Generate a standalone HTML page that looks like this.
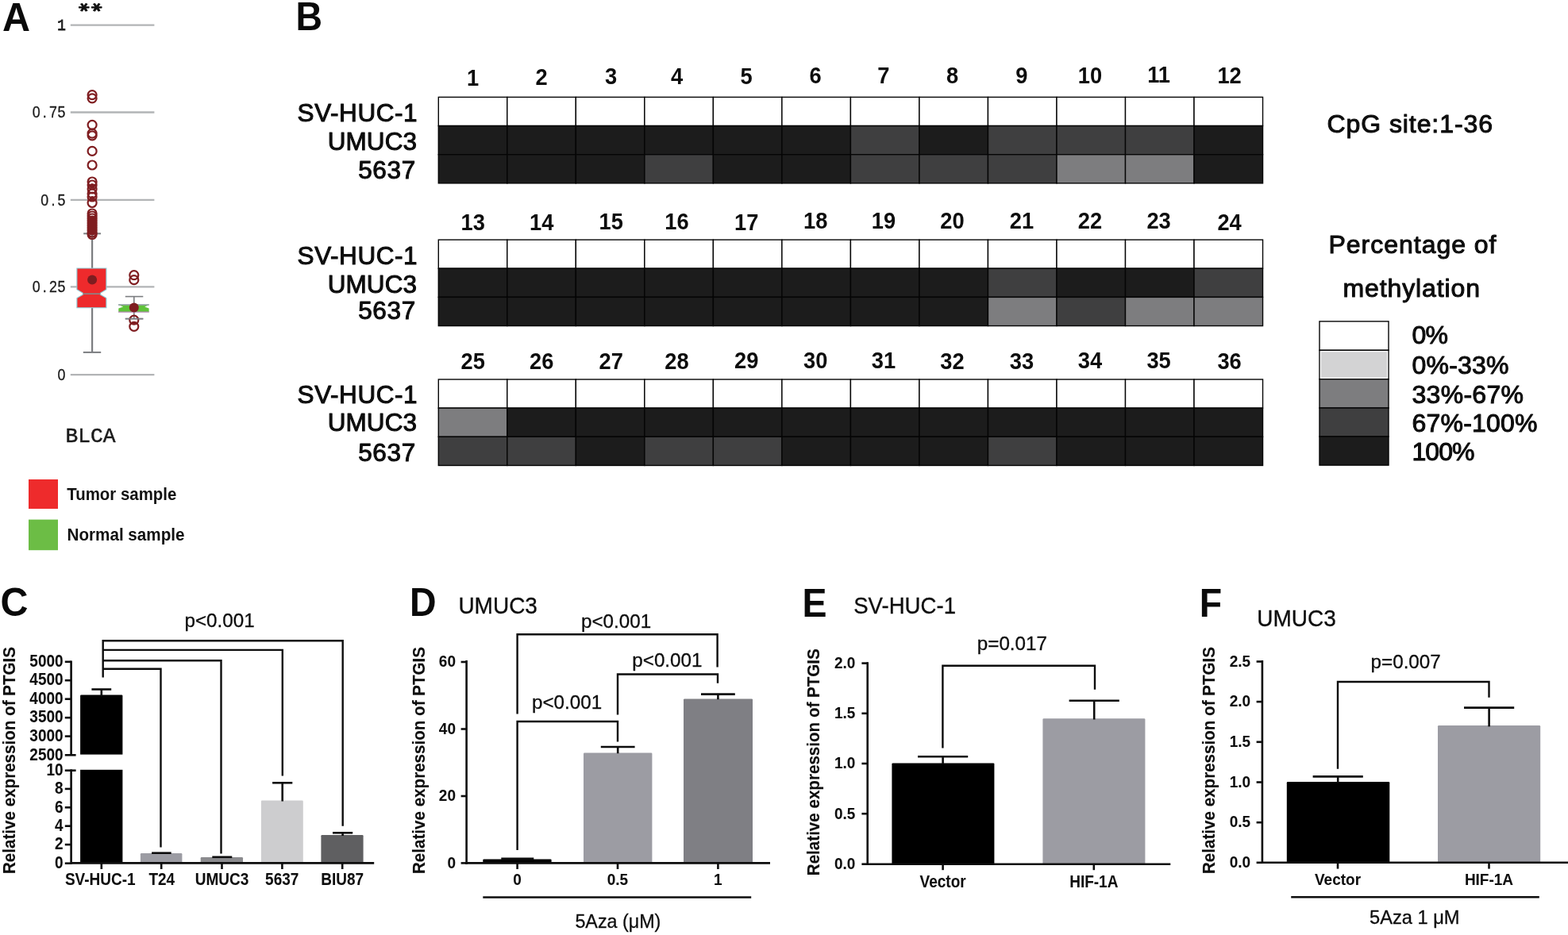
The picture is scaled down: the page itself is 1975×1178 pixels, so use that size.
<!DOCTYPE html>
<html lang="en">
<head>
<meta charset="utf-8">
<title>Figure</title>
<style>
html,body{margin:0;padding:0;background:#ffffff;}
body{width:1975px;height:1178px;overflow:hidden;font-family:"Liberation Sans", sans-serif;}
svg{display:block;}
</style>
</head>
<body>
<svg width="1975" height="1178" viewBox="0 0 1975 1178">
<rect x="0" y="0" width="1975" height="1178" fill="#ffffff"/>
<text transform="translate(3.0,38.8) scale(0.97,1)" font-family='"Liberation Sans", sans-serif' font-size="50" font-weight="bold" fill="#0a0a0a">A</text>
<text transform="translate(372.6,38.4) scale(0.93,1)" font-family='"Liberation Sans", sans-serif' font-size="50" font-weight="bold" fill="#0a0a0a">B</text>
<text transform="translate(0.6,776.2) scale(0.97,1)" font-family='"Liberation Sans", sans-serif' font-size="50" font-weight="bold" fill="#0a0a0a">C</text>
<text transform="translate(516.0,776.4) scale(0.93,1)" font-family='"Liberation Sans", sans-serif' font-size="50" font-weight="bold" fill="#0a0a0a">D</text>
<text transform="translate(1010.4,776.6) scale(0.93,1)" font-family='"Liberation Sans", sans-serif' font-size="50" font-weight="bold" fill="#0a0a0a">E</text>
<text transform="translate(1510.7,776.6) scale(0.93,1)" font-family='"Liberation Sans", sans-serif' font-size="50" font-weight="bold" fill="#0a0a0a">F</text>
<g id="panelA">
<line x1="88.8" y1="31.7" x2="194.4" y2="31.7" stroke="#b2b4b6" stroke-width="2.3" />
<text transform="translate(77.50,38.40) scale(0.84,1)" font-family='"Liberation Mono", "DejaVu Sans Mono", monospace' font-size="21" text-anchor="middle" fill="#1a1a1a" stroke="#1a1a1a" stroke-width="0.9">1</text>
<line x1="88.8" y1="141.5" x2="194.4" y2="141.5" stroke="#b2b4b6" stroke-width="2.3" />
<text transform="translate(82.80,148.40) scale(0.9,1)" x="-41.22 -29.44 -17.67 -5.89" y="0" font-family='"Liberation Sans", sans-serif' font-size="19.8" text-anchor="middle" fill="#1a1a1a" stroke="#1a1a1a" stroke-width="0.3">0.75</text>
<line x1="88.8" y1="251.79999999999998" x2="194.4" y2="251.79999999999998" stroke="#b2b4b6" stroke-width="2.3" />
<text transform="translate(82.80,258.70) scale(0.9,1)" x="-29.44 -17.67 -5.89" y="0" font-family='"Liberation Sans", sans-serif' font-size="19.8" text-anchor="middle" fill="#1a1a1a" stroke="#1a1a1a" stroke-width="0.3">0.5</text>
<line x1="88.8" y1="361.4" x2="194.4" y2="361.4" stroke="#b2b4b6" stroke-width="2.3" />
<text transform="translate(82.80,368.30) scale(0.9,1)" x="-41.22 -29.44 -17.67 -5.89" y="0" font-family='"Liberation Sans", sans-serif' font-size="19.8" text-anchor="middle" fill="#1a1a1a" stroke="#1a1a1a" stroke-width="0.3">0.25</text>
<line x1="88.8" y1="472.2" x2="194.4" y2="472.2" stroke="#b2b4b6" stroke-width="2.3" />
<text transform="translate(82.80,479.10) scale(0.9,1)" x="-5.89" y="0" font-family='"Liberation Sans", sans-serif' font-size="19.8" text-anchor="middle" fill="#1a1a1a" stroke="#1a1a1a" stroke-width="0.3">0</text>
<text transform="scale(1.06,0.80)" x="86.68 101.68" y="5.13" rotate="90" font-family='"DejaVu Sans", "Liberation Sans", sans-serif' font-size="25" font-weight="bold" fill="#111" stroke="#111" stroke-width="1.1" stroke-linejoin="round">**</text>
<line x1="116.1" y1="294.3" x2="116.1" y2="338" stroke="#7b7d80" stroke-width="2.2" />
<line x1="105.2" y1="294.3" x2="127.0" y2="294.3" stroke="#7b7d80" stroke-width="2.0" />
<line x1="116.1" y1="388" x2="116.1" y2="443.9" stroke="#7b7d80" stroke-width="2.2" />
<line x1="104.8" y1="443.9" x2="127.2" y2="443.9" stroke="#7b7d80" stroke-width="2.0" />
<path d="M96.9,338 H133.9 V364.8 L126.4,369.3 V371.1 L133.9,375.6 V387.8 H96.9 V375.6 L104.4,371.1 V369.3 L96.9,364.8 Z" fill="#ee2a2c" stroke="#8ecbd6" stroke-width="1.1" />
<line x1="104.4" y1="370.2" x2="126.4" y2="370.2" stroke="#8c8587" stroke-width="1.7" />
<circle cx="116.1" cy="119.6" r="5.5" fill="none" stroke="#7f1d20" stroke-width="2.2"/>
<circle cx="116.1" cy="123.8" r="5.5" fill="none" stroke="#7f1d20" stroke-width="2.2"/>
<circle cx="116.1" cy="157.3" r="5.5" fill="none" stroke="#7f1d20" stroke-width="2.2"/>
<circle cx="116.1" cy="168.2" r="5.5" fill="none" stroke="#7f1d20" stroke-width="2.2"/>
<circle cx="116.1" cy="170.8" r="5.5" fill="none" stroke="#7f1d20" stroke-width="2.2"/>
<circle cx="116.1" cy="190.4" r="5.5" fill="none" stroke="#7f1d20" stroke-width="2.2"/>
<circle cx="116.1" cy="208" r="5.5" fill="none" stroke="#7f1d20" stroke-width="2.2"/>
<circle cx="116.1" cy="229" r="5.5" fill="none" stroke="#7f1d20" stroke-width="2.2"/>
<circle cx="116.1" cy="233" r="5.5" fill="none" stroke="#7f1d20" stroke-width="2.2"/>
<circle cx="116.1" cy="238" r="5.5" fill="none" stroke="#7f1d20" stroke-width="2.2"/>
<circle cx="116.1" cy="244" r="5.5" fill="none" stroke="#7f1d20" stroke-width="2.2"/>
<circle cx="116.1" cy="248" r="5.5" fill="none" stroke="#7f1d20" stroke-width="2.2"/>
<circle cx="116.1" cy="255.5" r="5.5" fill="none" stroke="#7f1d20" stroke-width="2.2"/>
<circle cx="116.1" cy="269" r="5.5" fill="none" stroke="#7f1d20" stroke-width="2.2"/>
<circle cx="116.1" cy="272" r="5.5" fill="none" stroke="#7f1d20" stroke-width="2.2"/>
<circle cx="116.1" cy="275" r="5.5" fill="none" stroke="#7f1d20" stroke-width="2.2"/>
<circle cx="116.1" cy="278" r="5.5" fill="none" stroke="#7f1d20" stroke-width="2.2"/>
<circle cx="116.1" cy="281" r="5.5" fill="none" stroke="#7f1d20" stroke-width="2.2"/>
<circle cx="116.1" cy="284" r="5.5" fill="none" stroke="#7f1d20" stroke-width="2.2"/>
<circle cx="116.1" cy="287" r="5.5" fill="none" stroke="#7f1d20" stroke-width="2.2"/>
<circle cx="116.1" cy="290" r="5.5" fill="none" stroke="#7f1d20" stroke-width="2.2"/>
<circle cx="116.1" cy="293" r="5.5" fill="none" stroke="#7f1d20" stroke-width="2.2"/>
<circle cx="116.1" cy="295.5" r="5.5" fill="none" stroke="#7f1d20" stroke-width="2.2"/>
<rect x="110.3" y="272" width="11.6" height="23" rx="2" fill="#7f1d20"/>
<circle cx="116.1" cy="234.5" r="3.2" fill="#7f1d20"/>
<circle cx="116.1" cy="250" r="3" fill="#7f1d20"/>
<circle cx="116.1" cy="352.4" r="6" fill="#7f1d20"/>
<line x1="168.8" y1="373.6" x2="168.8" y2="384" stroke="#7b7d80" stroke-width="1.6" />
<line x1="157.8" y1="373.6" x2="180.3" y2="373.6" stroke="#7b7d80" stroke-width="1.6" />
<line x1="168.8" y1="393" x2="168.8" y2="401.6" stroke="#7b7d80" stroke-width="1.6" />
<line x1="157.8" y1="401.6" x2="180.3" y2="401.6" stroke="#7b7d80" stroke-width="1.6" />
<circle cx="168.8" cy="346.6" r="5.5" fill="none" stroke="#7f1d20" stroke-width="2.2"/>
<circle cx="168.8" cy="352.7" r="5.5" fill="none" stroke="#7f1d20" stroke-width="2.2"/>
<circle cx="168.8" cy="403.2" r="5.5" fill="none" stroke="#7f1d20" stroke-width="2.2"/>
<circle cx="168.8" cy="411.3" r="5.5" fill="none" stroke="#7f1d20" stroke-width="2.2"/>
<path d="M163.6,409.6 A5.4,5.4 0 0 1 174,409.6 Q168.8,406.8 163.6,409.6 Z" fill="#7f1d20"/>
<path d="M149.3,384.3 H187.6 L182.2,386.4 L187.6,388.6 V393 H149.3 V388.6 L155.2,386.4 L149.3,384.3 Z" fill="#5fc33a" stroke="none" stroke-width="0" />
<line x1="149" y1="384.1" x2="187.8" y2="384.1" stroke="#8a9a9c" stroke-width="1.5" />
<line x1="149" y1="393.1" x2="187.8" y2="393.1" stroke="#b58ab5" stroke-width="1.3" />
<line x1="157.8" y1="401.6" x2="180.3" y2="401.6" stroke="#7b7d80" stroke-width="1.6" />
<circle cx="168.8" cy="387.6" r="6" fill="#7f1d20"/>
<text x="82.6" y="556.6" font-family='"Liberation Mono", "DejaVu Sans Mono", monospace' font-size="26.5" font-weight="normal" text-anchor="start" fill="#1a1a1a" textLength="63" lengthAdjust="spacingAndGlyphs" stroke="#1a1a1a" stroke-width="0.5">BLCA</text>
<rect x="36.00" y="604.00" width="37.00" height="37.00" fill="#ee2b2c" stroke="none" stroke-width="0" />
<rect x="36.00" y="654.60" width="37.00" height="38.60" fill="#6cbd45" stroke="none" stroke-width="0" />
<text x="84.3" y="630.2" font-family='"Liberation Sans", sans-serif' font-size="22" font-weight="bold" text-anchor="start" fill="#111" textLength="138" lengthAdjust="spacingAndGlyphs">Tumor sample</text>
<text x="84.5" y="681.0" font-family='"Liberation Sans", sans-serif' font-size="22" font-weight="bold" text-anchor="start" fill="#111" textLength="148" lengthAdjust="spacingAndGlyphs">Normal sample</text>
</g>
<g id="panelB">
<rect x="552.30" y="122.40" width="86.52" height="36.15" fill="#ffffff" stroke="#050505" stroke-width="1.4" />
<rect x="638.82" y="122.40" width="86.52" height="36.15" fill="#ffffff" stroke="#050505" stroke-width="1.4" />
<rect x="725.34" y="122.40" width="86.52" height="36.15" fill="#ffffff" stroke="#050505" stroke-width="1.4" />
<rect x="811.86" y="122.40" width="86.52" height="36.15" fill="#ffffff" stroke="#050505" stroke-width="1.4" />
<rect x="898.38" y="122.40" width="86.52" height="36.15" fill="#ffffff" stroke="#050505" stroke-width="1.4" />
<rect x="984.90" y="122.40" width="86.52" height="36.15" fill="#ffffff" stroke="#050505" stroke-width="1.4" />
<rect x="1071.42" y="122.40" width="86.52" height="36.15" fill="#ffffff" stroke="#050505" stroke-width="1.4" />
<rect x="1157.94" y="122.40" width="86.52" height="36.15" fill="#ffffff" stroke="#050505" stroke-width="1.4" />
<rect x="1244.46" y="122.40" width="86.52" height="36.15" fill="#ffffff" stroke="#050505" stroke-width="1.4" />
<rect x="1330.98" y="122.40" width="86.52" height="36.15" fill="#ffffff" stroke="#050505" stroke-width="1.4" />
<rect x="1417.50" y="122.40" width="86.52" height="36.15" fill="#ffffff" stroke="#050505" stroke-width="1.4" />
<rect x="1504.02" y="122.40" width="86.52" height="36.15" fill="#ffffff" stroke="#050505" stroke-width="1.4" />
<text x="525.6" y="152.6" font-family='"Liberation Sans", sans-serif' font-size="31.5" font-weight="normal" text-anchor="end" fill="#0d0d0d" stroke="#0d0d0d" stroke-width="1.05" stroke-linejoin="round" textLength="151.0" lengthAdjust="spacing">SV-HUC-1</text>
<rect x="552.30" y="158.55" width="86.52" height="36.15" fill="#1c1c1c" stroke="#050505" stroke-width="1.4" />
<rect x="638.82" y="158.55" width="86.52" height="36.15" fill="#1c1c1c" stroke="#050505" stroke-width="1.4" />
<rect x="725.34" y="158.55" width="86.52" height="36.15" fill="#1c1c1c" stroke="#050505" stroke-width="1.4" />
<rect x="811.86" y="158.55" width="86.52" height="36.15" fill="#1c1c1c" stroke="#050505" stroke-width="1.4" />
<rect x="898.38" y="158.55" width="86.52" height="36.15" fill="#1c1c1c" stroke="#050505" stroke-width="1.4" />
<rect x="984.90" y="158.55" width="86.52" height="36.15" fill="#1c1c1c" stroke="#050505" stroke-width="1.4" />
<rect x="1071.42" y="158.55" width="86.52" height="36.15" fill="#3f3f40" stroke="#050505" stroke-width="1.4" />
<rect x="1157.94" y="158.55" width="86.52" height="36.15" fill="#1c1c1c" stroke="#050505" stroke-width="1.4" />
<rect x="1244.46" y="158.55" width="86.52" height="36.15" fill="#3f3f40" stroke="#050505" stroke-width="1.4" />
<rect x="1330.98" y="158.55" width="86.52" height="36.15" fill="#3f3f40" stroke="#050505" stroke-width="1.4" />
<rect x="1417.50" y="158.55" width="86.52" height="36.15" fill="#3f3f40" stroke="#050505" stroke-width="1.4" />
<rect x="1504.02" y="158.55" width="86.52" height="36.15" fill="#1c1c1c" stroke="#050505" stroke-width="1.4" />
<text x="525.0" y="189.2" font-family='"Liberation Sans", sans-serif' font-size="31.5" font-weight="normal" text-anchor="end" fill="#0d0d0d" stroke="#0d0d0d" stroke-width="1.05" stroke-linejoin="round" textLength="112.3" lengthAdjust="spacing">UMUC3</text>
<rect x="552.30" y="194.70" width="86.52" height="36.15" fill="#1c1c1c" stroke="#050505" stroke-width="1.4" />
<rect x="638.82" y="194.70" width="86.52" height="36.15" fill="#1c1c1c" stroke="#050505" stroke-width="1.4" />
<rect x="725.34" y="194.70" width="86.52" height="36.15" fill="#1c1c1c" stroke="#050505" stroke-width="1.4" />
<rect x="811.86" y="194.70" width="86.52" height="36.15" fill="#3f3f40" stroke="#050505" stroke-width="1.4" />
<rect x="898.38" y="194.70" width="86.52" height="36.15" fill="#1c1c1c" stroke="#050505" stroke-width="1.4" />
<rect x="984.90" y="194.70" width="86.52" height="36.15" fill="#1c1c1c" stroke="#050505" stroke-width="1.4" />
<rect x="1071.42" y="194.70" width="86.52" height="36.15" fill="#3f3f40" stroke="#050505" stroke-width="1.4" />
<rect x="1157.94" y="194.70" width="86.52" height="36.15" fill="#3f3f40" stroke="#050505" stroke-width="1.4" />
<rect x="1244.46" y="194.70" width="86.52" height="36.15" fill="#3f3f40" stroke="#050505" stroke-width="1.4" />
<rect x="1330.98" y="194.70" width="86.52" height="36.15" fill="#7d7d7f" stroke="#050505" stroke-width="1.4" />
<rect x="1417.50" y="194.70" width="86.52" height="36.15" fill="#7d7d7f" stroke="#050505" stroke-width="1.4" />
<rect x="1504.02" y="194.70" width="86.52" height="36.15" fill="#1c1c1c" stroke="#050505" stroke-width="1.4" />
<text x="523.2" y="225.3" font-family='"Liberation Sans", sans-serif' font-size="31.5" font-weight="normal" text-anchor="end" fill="#0d0d0d" stroke="#0d0d0d" stroke-width="1.05" stroke-linejoin="round" textLength="72.0" lengthAdjust="spacing">5637</text>
<text x="595.7" y="107.9" font-family='"Liberation Sans", sans-serif' font-size="29.5" font-weight="bold" text-anchor="middle" fill="#0d0d0d" textLength="15.18" lengthAdjust="spacingAndGlyphs">1</text>
<text x="682.2" y="107.30000000000001" font-family='"Liberation Sans", sans-serif' font-size="29.5" font-weight="bold" text-anchor="middle" fill="#0d0d0d" textLength="15.18" lengthAdjust="spacingAndGlyphs">2</text>
<text x="769.7" y="105.9" font-family='"Liberation Sans", sans-serif' font-size="29.5" font-weight="bold" text-anchor="middle" fill="#0d0d0d" textLength="15.18" lengthAdjust="spacingAndGlyphs">3</text>
<text x="852.5" y="105.9" font-family='"Liberation Sans", sans-serif' font-size="29.5" font-weight="bold" text-anchor="middle" fill="#0d0d0d" textLength="15.18" lengthAdjust="spacingAndGlyphs">4</text>
<text x="940.2" y="105.9" font-family='"Liberation Sans", sans-serif' font-size="29.5" font-weight="bold" text-anchor="middle" fill="#0d0d0d" textLength="15.18" lengthAdjust="spacingAndGlyphs">5</text>
<text x="1027.2" y="104.60000000000001" font-family='"Liberation Sans", sans-serif' font-size="29.5" font-weight="bold" text-anchor="middle" fill="#0d0d0d" textLength="15.18" lengthAdjust="spacingAndGlyphs">6</text>
<text x="1112.9" y="105.10000000000001" font-family='"Liberation Sans", sans-serif' font-size="29.5" font-weight="bold" text-anchor="middle" fill="#0d0d0d" textLength="15.18" lengthAdjust="spacingAndGlyphs">7</text>
<text x="1199.5" y="105.10000000000001" font-family='"Liberation Sans", sans-serif' font-size="29.5" font-weight="bold" text-anchor="middle" fill="#0d0d0d" textLength="15.18" lengthAdjust="spacingAndGlyphs">8</text>
<text x="1286.9" y="105.10000000000001" font-family='"Liberation Sans", sans-serif' font-size="29.5" font-weight="bold" text-anchor="middle" fill="#0d0d0d" textLength="15.18" lengthAdjust="spacingAndGlyphs">9</text>
<text x="1373.0" y="105.10000000000001" font-family='"Liberation Sans", sans-serif' font-size="29.5" font-weight="bold" text-anchor="middle" fill="#0d0d0d" textLength="30.37" lengthAdjust="spacingAndGlyphs">10</text>
<text x="1459.6" y="103.80000000000001" font-family='"Liberation Sans", sans-serif' font-size="29.5" font-weight="bold" text-anchor="middle" fill="#0d0d0d" textLength="28.86" lengthAdjust="spacingAndGlyphs">11</text>
<text x="1548.6" y="105.10000000000001" font-family='"Liberation Sans", sans-serif' font-size="29.5" font-weight="bold" text-anchor="middle" fill="#0d0d0d" textLength="30.37" lengthAdjust="spacingAndGlyphs">12</text>
<rect x="552.30" y="302.10" width="86.52" height="36.15" fill="#ffffff" stroke="#050505" stroke-width="1.4" />
<rect x="638.82" y="302.10" width="86.52" height="36.15" fill="#ffffff" stroke="#050505" stroke-width="1.4" />
<rect x="725.34" y="302.10" width="86.52" height="36.15" fill="#ffffff" stroke="#050505" stroke-width="1.4" />
<rect x="811.86" y="302.10" width="86.52" height="36.15" fill="#ffffff" stroke="#050505" stroke-width="1.4" />
<rect x="898.38" y="302.10" width="86.52" height="36.15" fill="#ffffff" stroke="#050505" stroke-width="1.4" />
<rect x="984.90" y="302.10" width="86.52" height="36.15" fill="#ffffff" stroke="#050505" stroke-width="1.4" />
<rect x="1071.42" y="302.10" width="86.52" height="36.15" fill="#ffffff" stroke="#050505" stroke-width="1.4" />
<rect x="1157.94" y="302.10" width="86.52" height="36.15" fill="#ffffff" stroke="#050505" stroke-width="1.4" />
<rect x="1244.46" y="302.10" width="86.52" height="36.15" fill="#ffffff" stroke="#050505" stroke-width="1.4" />
<rect x="1330.98" y="302.10" width="86.52" height="36.15" fill="#ffffff" stroke="#050505" stroke-width="1.4" />
<rect x="1417.50" y="302.10" width="86.52" height="36.15" fill="#ffffff" stroke="#050505" stroke-width="1.4" />
<rect x="1504.02" y="302.10" width="86.52" height="36.15" fill="#ffffff" stroke="#050505" stroke-width="1.4" />
<text x="525.6" y="333.2" font-family='"Liberation Sans", sans-serif' font-size="31.5" font-weight="normal" text-anchor="end" fill="#0d0d0d" stroke="#0d0d0d" stroke-width="1.05" stroke-linejoin="round" textLength="151.0" lengthAdjust="spacing">SV-HUC-1</text>
<rect x="552.30" y="338.25" width="86.52" height="36.15" fill="#1c1c1c" stroke="#050505" stroke-width="1.4" />
<rect x="638.82" y="338.25" width="86.52" height="36.15" fill="#1c1c1c" stroke="#050505" stroke-width="1.4" />
<rect x="725.34" y="338.25" width="86.52" height="36.15" fill="#1c1c1c" stroke="#050505" stroke-width="1.4" />
<rect x="811.86" y="338.25" width="86.52" height="36.15" fill="#1c1c1c" stroke="#050505" stroke-width="1.4" />
<rect x="898.38" y="338.25" width="86.52" height="36.15" fill="#1c1c1c" stroke="#050505" stroke-width="1.4" />
<rect x="984.90" y="338.25" width="86.52" height="36.15" fill="#1c1c1c" stroke="#050505" stroke-width="1.4" />
<rect x="1071.42" y="338.25" width="86.52" height="36.15" fill="#1c1c1c" stroke="#050505" stroke-width="1.4" />
<rect x="1157.94" y="338.25" width="86.52" height="36.15" fill="#1c1c1c" stroke="#050505" stroke-width="1.4" />
<rect x="1244.46" y="338.25" width="86.52" height="36.15" fill="#3f3f40" stroke="#050505" stroke-width="1.4" />
<rect x="1330.98" y="338.25" width="86.52" height="36.15" fill="#1c1c1c" stroke="#050505" stroke-width="1.4" />
<rect x="1417.50" y="338.25" width="86.52" height="36.15" fill="#1c1c1c" stroke="#050505" stroke-width="1.4" />
<rect x="1504.02" y="338.25" width="86.52" height="36.15" fill="#3f3f40" stroke="#050505" stroke-width="1.4" />
<text x="525.0" y="368.6" font-family='"Liberation Sans", sans-serif' font-size="31.5" font-weight="normal" text-anchor="end" fill="#0d0d0d" stroke="#0d0d0d" stroke-width="1.05" stroke-linejoin="round" textLength="112.3" lengthAdjust="spacing">UMUC3</text>
<rect x="552.30" y="374.40" width="86.52" height="36.15" fill="#1c1c1c" stroke="#050505" stroke-width="1.4" />
<rect x="638.82" y="374.40" width="86.52" height="36.15" fill="#1c1c1c" stroke="#050505" stroke-width="1.4" />
<rect x="725.34" y="374.40" width="86.52" height="36.15" fill="#1c1c1c" stroke="#050505" stroke-width="1.4" />
<rect x="811.86" y="374.40" width="86.52" height="36.15" fill="#1c1c1c" stroke="#050505" stroke-width="1.4" />
<rect x="898.38" y="374.40" width="86.52" height="36.15" fill="#1c1c1c" stroke="#050505" stroke-width="1.4" />
<rect x="984.90" y="374.40" width="86.52" height="36.15" fill="#1c1c1c" stroke="#050505" stroke-width="1.4" />
<rect x="1071.42" y="374.40" width="86.52" height="36.15" fill="#1c1c1c" stroke="#050505" stroke-width="1.4" />
<rect x="1157.94" y="374.40" width="86.52" height="36.15" fill="#1c1c1c" stroke="#050505" stroke-width="1.4" />
<rect x="1244.46" y="374.40" width="86.52" height="36.15" fill="#7d7d7f" stroke="#050505" stroke-width="1.4" />
<rect x="1330.98" y="374.40" width="86.52" height="36.15" fill="#3f3f40" stroke="#050505" stroke-width="1.4" />
<rect x="1417.50" y="374.40" width="86.52" height="36.15" fill="#7d7d7f" stroke="#050505" stroke-width="1.4" />
<rect x="1504.02" y="374.40" width="86.52" height="36.15" fill="#7d7d7f" stroke="#050505" stroke-width="1.4" />
<text x="523.2" y="402.2" font-family='"Liberation Sans", sans-serif' font-size="31.5" font-weight="normal" text-anchor="end" fill="#0d0d0d" stroke="#0d0d0d" stroke-width="1.05" stroke-linejoin="round" textLength="72.0" lengthAdjust="spacing">5637</text>
<text x="595.7" y="290.09999999999997" font-family='"Liberation Sans", sans-serif' font-size="29.5" font-weight="bold" text-anchor="middle" fill="#0d0d0d" textLength="30.37" lengthAdjust="spacingAndGlyphs">13</text>
<text x="682.2" y="290.09999999999997" font-family='"Liberation Sans", sans-serif' font-size="29.5" font-weight="bold" text-anchor="middle" fill="#0d0d0d" textLength="30.37" lengthAdjust="spacingAndGlyphs">14</text>
<text x="769.7" y="289.2" font-family='"Liberation Sans", sans-serif' font-size="29.5" font-weight="bold" text-anchor="middle" fill="#0d0d0d" textLength="30.37" lengthAdjust="spacingAndGlyphs">15</text>
<text x="852.5" y="289.2" font-family='"Liberation Sans", sans-serif' font-size="29.5" font-weight="bold" text-anchor="middle" fill="#0d0d0d" textLength="30.37" lengthAdjust="spacingAndGlyphs">16</text>
<text x="940.2" y="290.09999999999997" font-family='"Liberation Sans", sans-serif' font-size="29.5" font-weight="bold" text-anchor="middle" fill="#0d0d0d" textLength="30.37" lengthAdjust="spacingAndGlyphs">17</text>
<text x="1027.2" y="287.9" font-family='"Liberation Sans", sans-serif' font-size="29.5" font-weight="bold" text-anchor="middle" fill="#0d0d0d" textLength="30.37" lengthAdjust="spacingAndGlyphs">18</text>
<text x="1112.9" y="287.9" font-family='"Liberation Sans", sans-serif' font-size="29.5" font-weight="bold" text-anchor="middle" fill="#0d0d0d" textLength="30.37" lengthAdjust="spacingAndGlyphs">19</text>
<text x="1199.5" y="287.9" font-family='"Liberation Sans", sans-serif' font-size="29.5" font-weight="bold" text-anchor="middle" fill="#0d0d0d" textLength="30.37" lengthAdjust="spacingAndGlyphs">20</text>
<text x="1286.9" y="287.9" font-family='"Liberation Sans", sans-serif' font-size="29.5" font-weight="bold" text-anchor="middle" fill="#0d0d0d" textLength="30.37" lengthAdjust="spacingAndGlyphs">21</text>
<text x="1373.0" y="287.9" font-family='"Liberation Sans", sans-serif' font-size="29.5" font-weight="bold" text-anchor="middle" fill="#0d0d0d" textLength="30.37" lengthAdjust="spacingAndGlyphs">22</text>
<text x="1459.6" y="287.9" font-family='"Liberation Sans", sans-serif' font-size="29.5" font-weight="bold" text-anchor="middle" fill="#0d0d0d" textLength="30.37" lengthAdjust="spacingAndGlyphs">23</text>
<text x="1548.6" y="290.09999999999997" font-family='"Liberation Sans", sans-serif' font-size="29.5" font-weight="bold" text-anchor="middle" fill="#0d0d0d" textLength="30.37" lengthAdjust="spacingAndGlyphs">24</text>
<rect x="552.30" y="478.00" width="86.52" height="36.15" fill="#ffffff" stroke="#050505" stroke-width="1.4" />
<rect x="638.82" y="478.00" width="86.52" height="36.15" fill="#ffffff" stroke="#050505" stroke-width="1.4" />
<rect x="725.34" y="478.00" width="86.52" height="36.15" fill="#ffffff" stroke="#050505" stroke-width="1.4" />
<rect x="811.86" y="478.00" width="86.52" height="36.15" fill="#ffffff" stroke="#050505" stroke-width="1.4" />
<rect x="898.38" y="478.00" width="86.52" height="36.15" fill="#ffffff" stroke="#050505" stroke-width="1.4" />
<rect x="984.90" y="478.00" width="86.52" height="36.15" fill="#ffffff" stroke="#050505" stroke-width="1.4" />
<rect x="1071.42" y="478.00" width="86.52" height="36.15" fill="#ffffff" stroke="#050505" stroke-width="1.4" />
<rect x="1157.94" y="478.00" width="86.52" height="36.15" fill="#ffffff" stroke="#050505" stroke-width="1.4" />
<rect x="1244.46" y="478.00" width="86.52" height="36.15" fill="#ffffff" stroke="#050505" stroke-width="1.4" />
<rect x="1330.98" y="478.00" width="86.52" height="36.15" fill="#ffffff" stroke="#050505" stroke-width="1.4" />
<rect x="1417.50" y="478.00" width="86.52" height="36.15" fill="#ffffff" stroke="#050505" stroke-width="1.4" />
<rect x="1504.02" y="478.00" width="86.52" height="36.15" fill="#ffffff" stroke="#050505" stroke-width="1.4" />
<text x="525.6" y="507.5" font-family='"Liberation Sans", sans-serif' font-size="31.5" font-weight="normal" text-anchor="end" fill="#0d0d0d" stroke="#0d0d0d" stroke-width="1.05" stroke-linejoin="round" textLength="151.0" lengthAdjust="spacing">SV-HUC-1</text>
<rect x="552.30" y="514.15" width="86.52" height="36.15" fill="#7d7d7f" stroke="#050505" stroke-width="1.4" />
<rect x="638.82" y="514.15" width="86.52" height="36.15" fill="#1c1c1c" stroke="#050505" stroke-width="1.4" />
<rect x="725.34" y="514.15" width="86.52" height="36.15" fill="#1c1c1c" stroke="#050505" stroke-width="1.4" />
<rect x="811.86" y="514.15" width="86.52" height="36.15" fill="#1c1c1c" stroke="#050505" stroke-width="1.4" />
<rect x="898.38" y="514.15" width="86.52" height="36.15" fill="#1c1c1c" stroke="#050505" stroke-width="1.4" />
<rect x="984.90" y="514.15" width="86.52" height="36.15" fill="#1c1c1c" stroke="#050505" stroke-width="1.4" />
<rect x="1071.42" y="514.15" width="86.52" height="36.15" fill="#1c1c1c" stroke="#050505" stroke-width="1.4" />
<rect x="1157.94" y="514.15" width="86.52" height="36.15" fill="#1c1c1c" stroke="#050505" stroke-width="1.4" />
<rect x="1244.46" y="514.15" width="86.52" height="36.15" fill="#1c1c1c" stroke="#050505" stroke-width="1.4" />
<rect x="1330.98" y="514.15" width="86.52" height="36.15" fill="#1c1c1c" stroke="#050505" stroke-width="1.4" />
<rect x="1417.50" y="514.15" width="86.52" height="36.15" fill="#1c1c1c" stroke="#050505" stroke-width="1.4" />
<rect x="1504.02" y="514.15" width="86.52" height="36.15" fill="#1c1c1c" stroke="#050505" stroke-width="1.4" />
<text x="525.0" y="542.8" font-family='"Liberation Sans", sans-serif' font-size="31.5" font-weight="normal" text-anchor="end" fill="#0d0d0d" stroke="#0d0d0d" stroke-width="1.05" stroke-linejoin="round" textLength="112.3" lengthAdjust="spacing">UMUC3</text>
<rect x="552.30" y="550.30" width="86.52" height="36.15" fill="#3f3f40" stroke="#050505" stroke-width="1.4" />
<rect x="638.82" y="550.30" width="86.52" height="36.15" fill="#3f3f40" stroke="#050505" stroke-width="1.4" />
<rect x="725.34" y="550.30" width="86.52" height="36.15" fill="#1c1c1c" stroke="#050505" stroke-width="1.4" />
<rect x="811.86" y="550.30" width="86.52" height="36.15" fill="#3f3f40" stroke="#050505" stroke-width="1.4" />
<rect x="898.38" y="550.30" width="86.52" height="36.15" fill="#3f3f40" stroke="#050505" stroke-width="1.4" />
<rect x="984.90" y="550.30" width="86.52" height="36.15" fill="#1c1c1c" stroke="#050505" stroke-width="1.4" />
<rect x="1071.42" y="550.30" width="86.52" height="36.15" fill="#1c1c1c" stroke="#050505" stroke-width="1.4" />
<rect x="1157.94" y="550.30" width="86.52" height="36.15" fill="#1c1c1c" stroke="#050505" stroke-width="1.4" />
<rect x="1244.46" y="550.30" width="86.52" height="36.15" fill="#3f3f40" stroke="#050505" stroke-width="1.4" />
<rect x="1330.98" y="550.30" width="86.52" height="36.15" fill="#1c1c1c" stroke="#050505" stroke-width="1.4" />
<rect x="1417.50" y="550.30" width="86.52" height="36.15" fill="#1c1c1c" stroke="#050505" stroke-width="1.4" />
<rect x="1504.02" y="550.30" width="86.52" height="36.15" fill="#1c1c1c" stroke="#050505" stroke-width="1.4" />
<text x="523.2" y="581.2" font-family='"Liberation Sans", sans-serif' font-size="31.5" font-weight="normal" text-anchor="end" fill="#0d0d0d" stroke="#0d0d0d" stroke-width="1.05" stroke-linejoin="round" textLength="72.0" lengthAdjust="spacing">5637</text>
<text x="595.7" y="464.79999999999995" font-family='"Liberation Sans", sans-serif' font-size="29.5" font-weight="bold" text-anchor="middle" fill="#0d0d0d" textLength="30.37" lengthAdjust="spacingAndGlyphs">25</text>
<text x="682.2" y="465.29999999999995" font-family='"Liberation Sans", sans-serif' font-size="29.5" font-weight="bold" text-anchor="middle" fill="#0d0d0d" textLength="30.37" lengthAdjust="spacingAndGlyphs">26</text>
<text x="769.7" y="465.29999999999995" font-family='"Liberation Sans", sans-serif' font-size="29.5" font-weight="bold" text-anchor="middle" fill="#0d0d0d" textLength="30.37" lengthAdjust="spacingAndGlyphs">27</text>
<text x="852.5" y="465.29999999999995" font-family='"Liberation Sans", sans-serif' font-size="29.5" font-weight="bold" text-anchor="middle" fill="#0d0d0d" textLength="30.37" lengthAdjust="spacingAndGlyphs">28</text>
<text x="940.2" y="463.9" font-family='"Liberation Sans", sans-serif' font-size="29.5" font-weight="bold" text-anchor="middle" fill="#0d0d0d" textLength="30.37" lengthAdjust="spacingAndGlyphs">29</text>
<text x="1027.2" y="463.9" font-family='"Liberation Sans", sans-serif' font-size="29.5" font-weight="bold" text-anchor="middle" fill="#0d0d0d" textLength="30.37" lengthAdjust="spacingAndGlyphs">30</text>
<text x="1112.9" y="463.9" font-family='"Liberation Sans", sans-serif' font-size="29.5" font-weight="bold" text-anchor="middle" fill="#0d0d0d" textLength="30.37" lengthAdjust="spacingAndGlyphs">31</text>
<text x="1199.5" y="465.29999999999995" font-family='"Liberation Sans", sans-serif' font-size="29.5" font-weight="bold" text-anchor="middle" fill="#0d0d0d" textLength="30.37" lengthAdjust="spacingAndGlyphs">32</text>
<text x="1286.9" y="465.29999999999995" font-family='"Liberation Sans", sans-serif' font-size="29.5" font-weight="bold" text-anchor="middle" fill="#0d0d0d" textLength="30.37" lengthAdjust="spacingAndGlyphs">33</text>
<text x="1373.0" y="463.9" font-family='"Liberation Sans", sans-serif' font-size="29.5" font-weight="bold" text-anchor="middle" fill="#0d0d0d" textLength="30.37" lengthAdjust="spacingAndGlyphs">34</text>
<text x="1459.6" y="463.9" font-family='"Liberation Sans", sans-serif' font-size="29.5" font-weight="bold" text-anchor="middle" fill="#0d0d0d" textLength="30.37" lengthAdjust="spacingAndGlyphs">35</text>
<text x="1548.6" y="465.29999999999995" font-family='"Liberation Sans", sans-serif' font-size="29.5" font-weight="bold" text-anchor="middle" fill="#0d0d0d" textLength="30.37" lengthAdjust="spacingAndGlyphs">36</text>
<text x="1671.5" y="166.8" font-family='"Liberation Sans", sans-serif' font-size="32" font-weight="normal" text-anchor="start" fill="#0d0d0d" stroke="#0d0d0d" stroke-width="1.05" stroke-linejoin="round" textLength="208.5" lengthAdjust="spacing">CpG site:1-36</text>
<text x="1673.5" y="319.0" font-family='"Liberation Sans", sans-serif' font-size="32" font-weight="normal" text-anchor="start" fill="#0d0d0d" stroke="#0d0d0d" stroke-width="1.05" stroke-linejoin="round" textLength="211" lengthAdjust="spacing">Percentage of</text>
<text x="1691.5" y="373.8" font-family='"Liberation Sans", sans-serif' font-size="32" font-weight="normal" text-anchor="start" fill="#0d0d0d" stroke="#0d0d0d" stroke-width="1.05" stroke-linejoin="round" textLength="172.5" lengthAdjust="spacing">methylation</text>
<rect x="1662.00" y="404.90" width="87.00" height="36.40" fill="#ffffff" stroke="#050505" stroke-width="1.4" />
<text x="1778.5" y="432.6" font-family='"Liberation Sans", sans-serif' font-size="32" font-weight="normal" text-anchor="start" fill="#0d0d0d" stroke="#0d0d0d" stroke-width="1.05" stroke-linejoin="round" textLength="45.5" lengthAdjust="spacing">0%</text>
<rect x="1662.00" y="441.30" width="87.00" height="36.40" fill="#d3d3d4" stroke="#050505" stroke-width="1.4" />
<text x="1778.5" y="471.2" font-family='"Liberation Sans", sans-serif' font-size="32" font-weight="normal" text-anchor="start" fill="#0d0d0d" stroke="#0d0d0d" stroke-width="1.05" stroke-linejoin="round" textLength="122.0" lengthAdjust="spacing">0%-33%</text>
<rect x="1662.00" y="477.70" width="87.00" height="36.30" fill="#7d7d7f" stroke="#050505" stroke-width="1.4" />
<text x="1778.5" y="507.6" font-family='"Liberation Sans", sans-serif' font-size="32" font-weight="normal" text-anchor="start" fill="#0d0d0d" stroke="#0d0d0d" stroke-width="1.05" stroke-linejoin="round" textLength="140.5" lengthAdjust="spacing">33%-67%</text>
<rect x="1662.00" y="514.00" width="87.00" height="36.00" fill="#3f3f40" stroke="#050505" stroke-width="1.4" />
<text x="1778.5" y="544.1" font-family='"Liberation Sans", sans-serif' font-size="32" font-weight="normal" text-anchor="start" fill="#0d0d0d" stroke="#0d0d0d" stroke-width="1.05" stroke-linejoin="round" textLength="158.0" lengthAdjust="spacing">67%-100%</text>
<rect x="1662.00" y="550.00" width="87.00" height="36.10" fill="#1c1c1c" stroke="#050505" stroke-width="1.4" />
<text x="1778.5" y="580.1" font-family='"Liberation Sans", sans-serif' font-size="32" font-weight="normal" text-anchor="start" fill="#0d0d0d" stroke="#0d0d0d" stroke-width="1.05" stroke-linejoin="round" textLength="79.0" lengthAdjust="spacing">100%</text>
<rect x="1663.40" y="442.80" width="84.20" height="33.40" fill="none" stroke="#ffffff" stroke-width="1.1" />
</g>
<g id="panelC">
<text transform="translate(19.3,958) rotate(-90)" font-family='"Liberation Sans", sans-serif' font-size="22.5" font-weight="bold" text-anchor="middle" fill="#0d0d0d" stroke="#0d0d0d" stroke-width="0.12" textLength="286" lengthAdjust="spacingAndGlyphs">Relative expression of PTGIS</text>
<text x="232.5" y="790" font-family='"Liberation Sans", sans-serif' font-size="24.4" text-anchor="start" fill="#0d0d0d" stroke="#0d0d0d" stroke-width="0.3" textLength="88.15" lengthAdjust="spacingAndGlyphs">p&lt;0.001</text>
<rect x="101.10" y="875.50" width="53.30" height="211.90" fill="#000" stroke="none" stroke-width="0" rx="1.2"/>
<rect x="95.00" y="950.60" width="65.00" height="19.20" fill="#fff" stroke="none" stroke-width="0" />
<rect x="176.90" y="1075.00" width="52.50" height="12.40" fill="#9c9ca3" stroke="none" stroke-width="0" rx="1.2"/>
<rect x="252.70" y="1080.00" width="53.30" height="7.40" fill="#8b8b8e" stroke="none" stroke-width="0" rx="1.2"/>
<rect x="328.90" y="1008.50" width="52.90" height="78.90" fill="#cdcdcf" stroke="none" stroke-width="0" rx="1.2"/>
<rect x="404.40" y="1052.00" width="53.20" height="35.40" fill="#5f5f61" stroke="none" stroke-width="0" rx="1.2"/>
<line x1="127.8" y1="868.5" x2="127.8" y2="877.3" stroke="#0d0d0d" stroke-width="2.6" />
<line x1="115.39999999999999" y1="868.5" x2="140.2" y2="868.5" stroke="#0d0d0d" stroke-width="2.6" />
<line x1="203.4" y1="1074.7" x2="203.4" y2="1076" stroke="#0d0d0d" stroke-width="2.6" />
<line x1="191.1" y1="1074.7" x2="215.70000000000002" y2="1074.7" stroke="#0d0d0d" stroke-width="2.6" />
<line x1="279.8" y1="1079.8" x2="279.8" y2="1081" stroke="#0d0d0d" stroke-width="2.6" />
<line x1="267.3" y1="1079.8" x2="292.3" y2="1079.8" stroke="#0d0d0d" stroke-width="2.6" />
<line x1="355.7" y1="986.3" x2="355.7" y2="1009.5" stroke="#0d0d0d" stroke-width="2.6" />
<line x1="343.09999999999997" y1="986.3" x2="368.3" y2="986.3" stroke="#0d0d0d" stroke-width="2.6" />
<line x1="431.6" y1="1049.3" x2="431.6" y2="1053" stroke="#0d0d0d" stroke-width="2.6" />
<line x1="419.0" y1="1049.3" x2="444.20000000000005" y2="1049.3" stroke="#0d0d0d" stroke-width="2.6" />
<line x1="89.6" y1="832.5" x2="89.6" y2="951.3" stroke="#0d0d0d" stroke-width="2.6" />
<line x1="89.6" y1="969.4" x2="89.6" y2="1088.7" stroke="#0d0d0d" stroke-width="2.6" />
<line x1="89" y1="1087.4" x2="471.2" y2="1087.4" stroke="#0d0d0d" stroke-width="2.6" />
<line x1="81.8" y1="833.8" x2="89.6" y2="833.8" stroke="#0d0d0d" stroke-width="2.6" />
<text x="79.6" y="840.0" font-family='"Liberation Sans", sans-serif' font-size="21.2" font-weight="bold" text-anchor="end" fill="#0d0d0d" stroke="#0d0d0d" stroke-width="0.05" textLength="42.27" lengthAdjust="spacingAndGlyphs">5000</text>
<line x1="81.8" y1="857.1999999999999" x2="89.6" y2="857.1999999999999" stroke="#0d0d0d" stroke-width="2.6" />
<text x="79.6" y="863.4" font-family='"Liberation Sans", sans-serif' font-size="21.2" font-weight="bold" text-anchor="end" fill="#0d0d0d" stroke="#0d0d0d" stroke-width="0.05" textLength="42.27" lengthAdjust="spacingAndGlyphs">4500</text>
<line x1="81.8" y1="880.6999999999999" x2="89.6" y2="880.6999999999999" stroke="#0d0d0d" stroke-width="2.6" />
<text x="79.6" y="886.9" font-family='"Liberation Sans", sans-serif' font-size="21.2" font-weight="bold" text-anchor="end" fill="#0d0d0d" stroke="#0d0d0d" stroke-width="0.05" textLength="42.27" lengthAdjust="spacingAndGlyphs">4000</text>
<line x1="81.8" y1="904.1999999999999" x2="89.6" y2="904.1999999999999" stroke="#0d0d0d" stroke-width="2.6" />
<text x="79.6" y="910.4" font-family='"Liberation Sans", sans-serif' font-size="21.2" font-weight="bold" text-anchor="end" fill="#0d0d0d" stroke="#0d0d0d" stroke-width="0.05" textLength="42.27" lengthAdjust="spacingAndGlyphs">3500</text>
<line x1="81.8" y1="927.5999999999999" x2="89.6" y2="927.5999999999999" stroke="#0d0d0d" stroke-width="2.6" />
<text x="79.6" y="933.8" font-family='"Liberation Sans", sans-serif' font-size="21.2" font-weight="bold" text-anchor="end" fill="#0d0d0d" stroke="#0d0d0d" stroke-width="0.05" textLength="42.27" lengthAdjust="spacingAndGlyphs">3000</text>
<line x1="81.8" y1="951.3" x2="95.6" y2="951.3" stroke="#0d0d0d" stroke-width="2.6" />
<text x="79.6" y="957.5" font-family='"Liberation Sans", sans-serif' font-size="21.2" font-weight="bold" text-anchor="end" fill="#0d0d0d" stroke="#0d0d0d" stroke-width="0.05" textLength="42.27" lengthAdjust="spacingAndGlyphs">2500</text>
<line x1="81.8" y1="970.6999999999999" x2="95.6" y2="970.6999999999999" stroke="#0d0d0d" stroke-width="2.6" />
<text x="79.6" y="976.9" font-family='"Liberation Sans", sans-serif' font-size="21.2" font-weight="bold" text-anchor="end" fill="#0d0d0d" stroke="#0d0d0d" stroke-width="0.05" textLength="21.13" lengthAdjust="spacingAndGlyphs">10</text>
<line x1="81.8" y1="993.9" x2="89.6" y2="993.9" stroke="#0d0d0d" stroke-width="2.6" />
<text x="79.6" y="1000.1" font-family='"Liberation Sans", sans-serif' font-size="21.2" font-weight="bold" text-anchor="end" fill="#0d0d0d" stroke="#0d0d0d" stroke-width="0.05" textLength="10.57" lengthAdjust="spacingAndGlyphs">8</text>
<line x1="81.8" y1="1017.3" x2="89.6" y2="1017.3" stroke="#0d0d0d" stroke-width="2.6" />
<text x="79.6" y="1023.5" font-family='"Liberation Sans", sans-serif' font-size="21.2" font-weight="bold" text-anchor="end" fill="#0d0d0d" stroke="#0d0d0d" stroke-width="0.05" textLength="10.57" lengthAdjust="spacingAndGlyphs">6</text>
<line x1="81.8" y1="1040.7" x2="89.6" y2="1040.7" stroke="#0d0d0d" stroke-width="2.6" />
<text x="79.6" y="1046.9" font-family='"Liberation Sans", sans-serif' font-size="21.2" font-weight="bold" text-anchor="end" fill="#0d0d0d" stroke="#0d0d0d" stroke-width="0.05" textLength="10.57" lengthAdjust="spacingAndGlyphs">4</text>
<line x1="81.8" y1="1064.1" x2="89.6" y2="1064.1" stroke="#0d0d0d" stroke-width="2.6" />
<text x="79.6" y="1070.3" font-family='"Liberation Sans", sans-serif' font-size="21.2" font-weight="bold" text-anchor="end" fill="#0d0d0d" stroke="#0d0d0d" stroke-width="0.05" textLength="10.57" lengthAdjust="spacingAndGlyphs">2</text>
<line x1="81.8" y1="1087.7" x2="89.6" y2="1087.7" stroke="#0d0d0d" stroke-width="2.6" />
<text x="79.6" y="1093.9" font-family='"Liberation Sans", sans-serif' font-size="21.2" font-weight="bold" text-anchor="end" fill="#0d0d0d" stroke="#0d0d0d" stroke-width="0.05" textLength="10.57" lengthAdjust="spacingAndGlyphs">0</text>
<line x1="127.8" y1="1087.4" x2="127.8" y2="1095.0" stroke="#0d0d0d" stroke-width="2.6" />
<text x="126.3" y="1114.7" font-family='"Liberation Sans", sans-serif' font-size="21.2" font-weight="bold" text-anchor="middle" fill="#0d0d0d" stroke="#0d0d0d" stroke-width="0.05" textLength="88.68" lengthAdjust="spacingAndGlyphs">SV-HUC-1</text>
<line x1="203.2" y1="1087.4" x2="203.2" y2="1095.0" stroke="#0d0d0d" stroke-width="2.6" />
<text x="203.8" y="1114.7" font-family='"Liberation Sans", sans-serif' font-size="21.2" font-weight="bold" text-anchor="middle" fill="#0d0d0d" stroke="#0d0d0d" stroke-width="0.05" textLength="32.74" lengthAdjust="spacingAndGlyphs">T24</text>
<line x1="279.5" y1="1087.4" x2="279.5" y2="1095.0" stroke="#0d0d0d" stroke-width="2.6" />
<text x="279.6" y="1114.7" font-family='"Liberation Sans", sans-serif' font-size="21.2" font-weight="bold" text-anchor="middle" fill="#0d0d0d" stroke="#0d0d0d" stroke-width="0.05" textLength="67.56" lengthAdjust="spacingAndGlyphs">UMUC3</text>
<line x1="355.4" y1="1087.4" x2="355.4" y2="1095.0" stroke="#0d0d0d" stroke-width="2.6" />
<text x="355.2" y="1114.7" font-family='"Liberation Sans", sans-serif' font-size="21.2" font-weight="bold" text-anchor="middle" fill="#0d0d0d" stroke="#0d0d0d" stroke-width="0.05" textLength="42.27" lengthAdjust="spacingAndGlyphs">5637</text>
<line x1="431.2" y1="1087.4" x2="431.2" y2="1095.0" stroke="#0d0d0d" stroke-width="2.6" />
<text x="431.2" y="1114.7" font-family='"Liberation Sans", sans-serif' font-size="21.2" font-weight="bold" text-anchor="middle" fill="#0d0d0d" stroke="#0d0d0d" stroke-width="0.05" textLength="53.86" lengthAdjust="spacingAndGlyphs">BIU87</text>
<path d="M129.7,853.6 L129.7,807.2 L431.7,807.2 L431.7,1040.8" fill="none" stroke="#0d0d0d" stroke-width="2.4" />
<path d="M129.7,818.9 L355.8,818.9 L355.8,977.4" fill="none" stroke="#0d0d0d" stroke-width="2.4" />
<path d="M129.7,832.2 L278.5,832.2 L278.5,1075.6" fill="none" stroke="#0d0d0d" stroke-width="2.4" />
<path d="M129.7,842.7 L202.5,842.7 L202.5,1067.6" fill="none" stroke="#0d0d0d" stroke-width="2.4" />
</g>
<g id="panelD">
<text transform="translate(535.4,958) rotate(-90)" font-family='"Liberation Sans", sans-serif' font-size="22.5" font-weight="bold" text-anchor="middle" fill="#0d0d0d" stroke="#0d0d0d" stroke-width="0.12" textLength="286" lengthAdjust="spacingAndGlyphs">Relative expression of PTGIS</text>
<text x="577.4" y="772.7" font-family='"Liberation Sans", sans-serif' font-size="28.8" text-anchor="start" fill="#0d0d0d" stroke="#0d0d0d" stroke-width="0.3" textLength="99.56" lengthAdjust="spacingAndGlyphs">UMUC3</text>
<rect x="608.30" y="1082.60" width="86.30" height="4.80" fill="#000" stroke="none" stroke-width="0" rx="1.2"/>
<rect x="735.00" y="948.50" width="86.40" height="138.90" fill="#9c9ca3" stroke="none" stroke-width="0" rx="1.2"/>
<rect x="861.00" y="880.40" width="87.00" height="207.00" fill="#7f7f84" stroke="none" stroke-width="0" rx="1.2"/>
<line x1="651.8" y1="1082.2" x2="651.8" y2="1083.4" stroke="#0d0d0d" stroke-width="3.2" />
<line x1="631.3" y1="1082.2" x2="672.3" y2="1082.2" stroke="#0d0d0d" stroke-width="3.2" />
<line x1="778.2" y1="941.0" x2="778.2" y2="949.2" stroke="#0d0d0d" stroke-width="2.6" />
<line x1="756.8000000000001" y1="941.0" x2="799.6" y2="941.0" stroke="#0d0d0d" stroke-width="2.6" />
<line x1="904.4" y1="874.6" x2="904.4" y2="881.2" stroke="#0d0d0d" stroke-width="2.6" />
<line x1="883.0" y1="874.6" x2="925.8" y2="874.6" stroke="#0d0d0d" stroke-width="2.6" />
<line x1="587.6" y1="832.1" x2="587.6" y2="1088.8000000000002" stroke="#0d0d0d" stroke-width="2.6" />
<line x1="586.2" y1="1087.4" x2="970.0" y2="1087.4" stroke="#0d0d0d" stroke-width="2.6" />
<line x1="580.6" y1="834.0" x2="587.6" y2="834.0" stroke="#0d0d0d" stroke-width="2.6" />
<text x="574.0" y="840.4" font-family='"Liberation Sans", sans-serif' font-size="20.8" font-weight="bold" text-anchor="end" fill="#0d0d0d" stroke="#0d0d0d" stroke-width="0.05" textLength="21.13" lengthAdjust="spacingAndGlyphs">60</text>
<line x1="580.6" y1="918.5" x2="587.6" y2="918.5" stroke="#0d0d0d" stroke-width="2.6" />
<text x="574.0" y="924.9" font-family='"Liberation Sans", sans-serif' font-size="20.8" font-weight="bold" text-anchor="end" fill="#0d0d0d" stroke="#0d0d0d" stroke-width="0.05" textLength="21.13" lengthAdjust="spacingAndGlyphs">40</text>
<line x1="580.6" y1="1003.0" x2="587.6" y2="1003.0" stroke="#0d0d0d" stroke-width="2.6" />
<text x="574.0" y="1009.4" font-family='"Liberation Sans", sans-serif' font-size="20.8" font-weight="bold" text-anchor="end" fill="#0d0d0d" stroke="#0d0d0d" stroke-width="0.05" textLength="21.13" lengthAdjust="spacingAndGlyphs">20</text>
<line x1="580.6" y1="1087.4" x2="587.6" y2="1087.4" stroke="#0d0d0d" stroke-width="2.6" />
<text x="574.0" y="1093.8000000000002" font-family='"Liberation Sans", sans-serif' font-size="20.8" font-weight="bold" text-anchor="end" fill="#0d0d0d" stroke="#0d0d0d" stroke-width="0.05" textLength="10.57" lengthAdjust="spacingAndGlyphs">0</text>
<line x1="651.6" y1="1087.4" x2="651.6" y2="1095.0" stroke="#0d0d0d" stroke-width="2.6" />
<text x="651.6" y="1114.5" font-family='"Liberation Sans", sans-serif' font-size="19.7" font-weight="bold" text-anchor="middle" fill="#0d0d0d" stroke="#0d0d0d" stroke-width="0.05" textLength="10.57" lengthAdjust="spacingAndGlyphs">0</text>
<line x1="778" y1="1087.4" x2="778" y2="1095.0" stroke="#0d0d0d" stroke-width="2.6" />
<text x="778" y="1114.5" font-family='"Liberation Sans", sans-serif' font-size="19.7" font-weight="bold" text-anchor="middle" fill="#0d0d0d" stroke="#0d0d0d" stroke-width="0.05" textLength="26.41" lengthAdjust="spacingAndGlyphs">0.5</text>
<line x1="904.4" y1="1087.4" x2="904.4" y2="1095.0" stroke="#0d0d0d" stroke-width="2.6" />
<text x="904.4" y="1114.5" font-family='"Liberation Sans", sans-serif' font-size="19.7" font-weight="bold" text-anchor="middle" fill="#0d0d0d" stroke="#0d0d0d" stroke-width="0.05" textLength="10.57" lengthAdjust="spacingAndGlyphs">1</text>
<path d="M651.6,899.6 L651.6,799.3 L903.6,799.3 L903.6,840.5" fill="none" stroke="#0d0d0d" stroke-width="2.4" />
<path d="M778,900.6 L778,849.5 L904.0,849.5 L904.0,860.7" fill="none" stroke="#0d0d0d" stroke-width="2.4" />
<path d="M651.6,1071 L651.6,909 L778,909 L778,934.6" fill="none" stroke="#0d0d0d" stroke-width="2.4" />
<text x="732" y="790.6" font-family='"Liberation Sans", sans-serif' font-size="24.4" text-anchor="start" fill="#0d0d0d" stroke="#0d0d0d" stroke-width="0.3" textLength="88.15" lengthAdjust="spacingAndGlyphs">p&lt;0.001</text>
<text x="796.3" y="840.2" font-family='"Liberation Sans", sans-serif' font-size="24.4" text-anchor="start" fill="#0d0d0d" stroke="#0d0d0d" stroke-width="0.3" textLength="88.15" lengthAdjust="spacingAndGlyphs">p&lt;0.001</text>
<text x="670" y="892.8" font-family='"Liberation Sans", sans-serif' font-size="24.4" text-anchor="start" fill="#0d0d0d" stroke="#0d0d0d" stroke-width="0.3" textLength="88.15" lengthAdjust="spacingAndGlyphs">p&lt;0.001</text>
<line x1="608.3" y1="1130.5" x2="946.2" y2="1130.5" stroke="#0d0d0d" stroke-width="2.5" />
<text x="778.4" y="1168.9" font-family='"Liberation Sans", sans-serif' font-size="24.2" font-weight="normal" text-anchor="middle" fill="#0d0d0d" textLength="108" lengthAdjust="spacingAndGlyphs" stroke="#0d0d0d" stroke-width="0.3">5Aza (μM)</text>
</g>
<g id="panelE">
<text transform="translate(1032.0,960.2) rotate(-90)" font-family='"Liberation Sans", sans-serif' font-size="22.5" font-weight="bold" text-anchor="middle" fill="#0d0d0d" stroke="#0d0d0d" stroke-width="0.12" textLength="286" lengthAdjust="spacingAndGlyphs">Relative expression of PTGIS</text>
<text x="1075.2" y="772.8" font-family='"Liberation Sans", sans-serif' font-size="28.8" text-anchor="start" fill="#0d0d0d" stroke="#0d0d0d" stroke-width="0.3" textLength="128.82" lengthAdjust="spacingAndGlyphs">SV-HUC-1</text>
<rect x="1123.40" y="961.40" width="129.00" height="127.30" fill="#000" stroke="none" stroke-width="0" rx="1.2"/>
<rect x="1313.40" y="905.30" width="129.00" height="183.40" fill="#9c9ca3" stroke="none" stroke-width="0" rx="1.2"/>
<line x1="1187.6" y1="953.3" x2="1187.6" y2="962.8" stroke="#0d0d0d" stroke-width="2.6" />
<line x1="1156.0" y1="953.3" x2="1219.1999999999998" y2="953.3" stroke="#0d0d0d" stroke-width="2.6" />
<line x1="1378.2" y1="882.8" x2="1378.2" y2="906.5" stroke="#0d0d0d" stroke-width="2.6" />
<line x1="1346.6000000000001" y1="882.8" x2="1409.8" y2="882.8" stroke="#0d0d0d" stroke-width="2.6" />
<line x1="1092.7" y1="834.2" x2="1092.7" y2="1090.0" stroke="#0d0d0d" stroke-width="2.6" />
<line x1="1092" y1="1088.7" x2="1474.3" y2="1088.7" stroke="#0d0d0d" stroke-width="2.6" />
<line x1="1085.4" y1="835.6" x2="1092.7" y2="835.6" stroke="#0d0d0d" stroke-width="2.6" />
<text x="1077.4" y="841.9" font-family='"Liberation Sans", sans-serif' font-size="20.6" font-weight="bold" text-anchor="end" fill="#0d0d0d" stroke="#0d0d0d" stroke-width="0.05" textLength="26.41" lengthAdjust="spacingAndGlyphs">2.0</text>
<line x1="1085.4" y1="898.8" x2="1092.7" y2="898.8" stroke="#0d0d0d" stroke-width="2.6" />
<text x="1077.4" y="905.0999999999999" font-family='"Liberation Sans", sans-serif' font-size="20.6" font-weight="bold" text-anchor="end" fill="#0d0d0d" stroke="#0d0d0d" stroke-width="0.05" textLength="26.41" lengthAdjust="spacingAndGlyphs">1.5</text>
<line x1="1085.4" y1="962" x2="1092.7" y2="962" stroke="#0d0d0d" stroke-width="2.6" />
<text x="1077.4" y="968.3" font-family='"Liberation Sans", sans-serif' font-size="20.6" font-weight="bold" text-anchor="end" fill="#0d0d0d" stroke="#0d0d0d" stroke-width="0.05" textLength="26.41" lengthAdjust="spacingAndGlyphs">1.0</text>
<line x1="1085.4" y1="1025.2" x2="1092.7" y2="1025.2" stroke="#0d0d0d" stroke-width="2.6" />
<text x="1077.4" y="1031.5" font-family='"Liberation Sans", sans-serif' font-size="20.6" font-weight="bold" text-anchor="end" fill="#0d0d0d" stroke="#0d0d0d" stroke-width="0.05" textLength="26.41" lengthAdjust="spacingAndGlyphs">0.5</text>
<line x1="1085.4" y1="1088.7" x2="1092.7" y2="1088.7" stroke="#0d0d0d" stroke-width="2.6" />
<text x="1077.4" y="1095.0" font-family='"Liberation Sans", sans-serif' font-size="20.6" font-weight="bold" text-anchor="end" fill="#0d0d0d" stroke="#0d0d0d" stroke-width="0.05" textLength="26.41" lengthAdjust="spacingAndGlyphs">0.0</text>
<line x1="1187.6" y1="1088.7" x2="1187.6" y2="1096.2" stroke="#0d0d0d" stroke-width="2.6" />
<text x="1187.6" y="1118.0" font-family='"Liberation Sans", sans-serif' font-size="21.2" font-weight="bold" text-anchor="middle" fill="#0d0d0d" stroke="#0d0d0d" stroke-width="0.05" textLength="58.09" lengthAdjust="spacingAndGlyphs">Vector</text>
<line x1="1377.8" y1="1088.7" x2="1377.8" y2="1096.2" stroke="#0d0d0d" stroke-width="2.6" />
<text x="1377.8" y="1118.0" font-family='"Liberation Sans", sans-serif' font-size="21.2" font-weight="bold" text-anchor="middle" fill="#0d0d0d" stroke="#0d0d0d" stroke-width="0.05" textLength="61.22" lengthAdjust="spacingAndGlyphs">HIF-1A</text>
<path d="M1187.4,942.4 L1187.4,838.8 L1379.0,838.8 L1379.0,868.7" fill="none" stroke="#0d0d0d" stroke-width="2.4" />
<text x="1230.8" y="819.3" font-family='"Liberation Sans", sans-serif' font-size="24.4" text-anchor="start" fill="#0d0d0d" stroke="#0d0d0d" stroke-width="0.3" textLength="88.15" lengthAdjust="spacingAndGlyphs">p=0.017</text>
</g>
<g id="panelF">
<text transform="translate(1530.4,958) rotate(-90)" font-family='"Liberation Sans", sans-serif' font-size="22.5" font-weight="bold" text-anchor="middle" fill="#0d0d0d" stroke="#0d0d0d" stroke-width="0.12" textLength="286" lengthAdjust="spacingAndGlyphs">Relative expression of PTGIS</text>
<text x="1583.2" y="788.5" font-family='"Liberation Sans", sans-serif' font-size="28.8" text-anchor="start" fill="#0d0d0d" stroke="#0d0d0d" stroke-width="0.3" textLength="99.56" lengthAdjust="spacingAndGlyphs">UMUC3</text>
<rect x="1620.80" y="985.00" width="129.50" height="101.80" fill="#000" stroke="none" stroke-width="0" rx="1.2"/>
<rect x="1811.00" y="914.00" width="129.20" height="172.80" fill="#9c9ca3" stroke="none" stroke-width="0" rx="1.2"/>
<line x1="1685.2" y1="978.4" x2="1685.2" y2="986.6" stroke="#0d0d0d" stroke-width="2.6" />
<line x1="1653.6000000000001" y1="978.4" x2="1716.8" y2="978.4" stroke="#0d0d0d" stroke-width="2.6" />
<line x1="1875.6" y1="891.6" x2="1875.6" y2="915.4" stroke="#0d0d0d" stroke-width="2.6" />
<line x1="1844.0" y1="891.6" x2="1907.1999999999998" y2="891.6" stroke="#0d0d0d" stroke-width="2.6" />
<line x1="1589.9" y1="832.1" x2="1589.9" y2="1088.1" stroke="#0d0d0d" stroke-width="2.6" />
<line x1="1589.5" y1="1086.8" x2="1975" y2="1086.8" stroke="#0d0d0d" stroke-width="2.6" />
<line x1="1582.6" y1="833.5" x2="1589.9" y2="833.5" stroke="#0d0d0d" stroke-width="2.6" />
<text x="1575.2" y="839.7" font-family='"Liberation Sans", sans-serif' font-size="20.4" font-weight="bold" text-anchor="end" fill="#0d0d0d" stroke="#0d0d0d" stroke-width="0.05" textLength="26.41" lengthAdjust="spacingAndGlyphs">2.5</text>
<line x1="1582.6" y1="884.1" x2="1589.9" y2="884.1" stroke="#0d0d0d" stroke-width="2.6" />
<text x="1575.2" y="890.3000000000001" font-family='"Liberation Sans", sans-serif' font-size="20.4" font-weight="bold" text-anchor="end" fill="#0d0d0d" stroke="#0d0d0d" stroke-width="0.05" textLength="26.41" lengthAdjust="spacingAndGlyphs">2.0</text>
<line x1="1582.6" y1="934.8" x2="1589.9" y2="934.8" stroke="#0d0d0d" stroke-width="2.6" />
<text x="1575.2" y="941.0" font-family='"Liberation Sans", sans-serif' font-size="20.4" font-weight="bold" text-anchor="end" fill="#0d0d0d" stroke="#0d0d0d" stroke-width="0.05" textLength="26.41" lengthAdjust="spacingAndGlyphs">1.5</text>
<line x1="1582.6" y1="985.5" x2="1589.9" y2="985.5" stroke="#0d0d0d" stroke-width="2.6" />
<text x="1575.2" y="991.7" font-family='"Liberation Sans", sans-serif' font-size="20.4" font-weight="bold" text-anchor="end" fill="#0d0d0d" stroke="#0d0d0d" stroke-width="0.05" textLength="26.41" lengthAdjust="spacingAndGlyphs">1.0</text>
<line x1="1582.6" y1="1036.2" x2="1589.9" y2="1036.2" stroke="#0d0d0d" stroke-width="2.6" />
<text x="1575.2" y="1042.4" font-family='"Liberation Sans", sans-serif' font-size="20.4" font-weight="bold" text-anchor="end" fill="#0d0d0d" stroke="#0d0d0d" stroke-width="0.05" textLength="26.41" lengthAdjust="spacingAndGlyphs">0.5</text>
<line x1="1582.6" y1="1086.8" x2="1589.9" y2="1086.8" stroke="#0d0d0d" stroke-width="2.6" />
<text x="1575.2" y="1093.0" font-family='"Liberation Sans", sans-serif' font-size="20.4" font-weight="bold" text-anchor="end" fill="#0d0d0d" stroke="#0d0d0d" stroke-width="0.05" textLength="26.41" lengthAdjust="spacingAndGlyphs">0.0</text>
<line x1="1685" y1="1086.8" x2="1685" y2="1094.6" stroke="#0d0d0d" stroke-width="2.6" />
<text x="1685" y="1114.5" font-family='"Liberation Sans", sans-serif' font-size="19.7" font-weight="bold" text-anchor="middle" fill="#0d0d0d" stroke="#0d0d0d" stroke-width="0.05" textLength="58.09" lengthAdjust="spacingAndGlyphs">Vector</text>
<line x1="1875.5" y1="1086.8" x2="1875.5" y2="1094.6" stroke="#0d0d0d" stroke-width="2.6" />
<text x="1875.5" y="1114.5" font-family='"Liberation Sans", sans-serif' font-size="19.7" font-weight="bold" text-anchor="middle" fill="#0d0d0d" stroke="#0d0d0d" stroke-width="0.05" textLength="61.22" lengthAdjust="spacingAndGlyphs">HIF-1A</text>
<path d="M1685,968.8 L1685,859.0 L1875.5,859.0 L1875.5,878.8" fill="none" stroke="#0d0d0d" stroke-width="2.4" />
<text x="1726.6" y="841.5" font-family='"Liberation Sans", sans-serif' font-size="24.4" text-anchor="start" fill="#0d0d0d" stroke="#0d0d0d" stroke-width="0.3" textLength="88.15" lengthAdjust="spacingAndGlyphs">p=0.007</text>
<line x1="1626.2" y1="1130.3" x2="1938.8" y2="1130.3" stroke="#0d0d0d" stroke-width="2.5" />
<text x="1781.8" y="1164.3" font-family='"Liberation Sans", sans-serif' font-size="24.2" font-weight="normal" text-anchor="middle" fill="#0d0d0d" textLength="113.5" lengthAdjust="spacingAndGlyphs" stroke="#0d0d0d" stroke-width="0.3">5Aza 1 μM</text>
</g>
</svg>
</body>
</html>
